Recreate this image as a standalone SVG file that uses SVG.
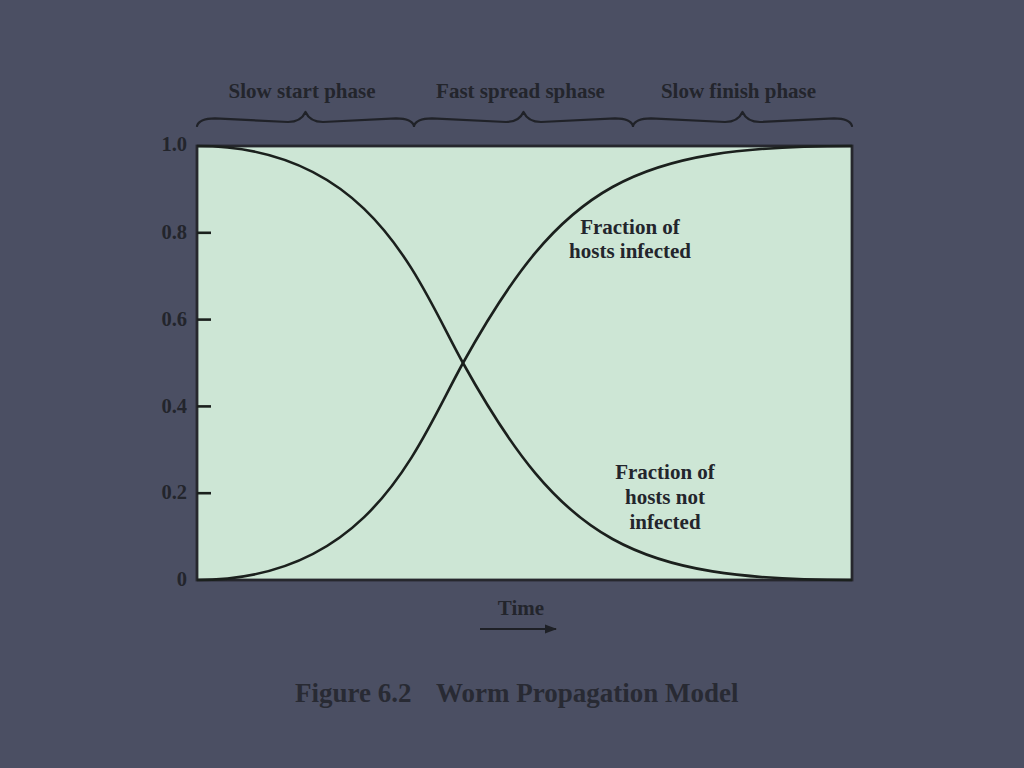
<svg xmlns="http://www.w3.org/2000/svg" width="1024" height="768" viewBox="0 0 1024 768">
  <style>
    .t { font-family: "Liberation Serif", "Times New Roman", serif; font-weight: bold; fill: #23252c; }
    .lbl { font-size: 21px; text-anchor: middle; }
    .tick { font-size: 20.5px; text-anchor: end; }
    .brace { fill: none; stroke: #202228; stroke-width: 2.2; stroke-linecap: round; stroke-linejoin: round; }
    .curve { fill: none; stroke: #1b201d; stroke-width: 2.6; }
    .tk { stroke: #1b201d; stroke-width: 2.6; }
  </style>
  <defs>
    <marker id="arr" markerWidth="12" markerHeight="10" refX="11" refY="5" orient="auto" markerUnits="userSpaceOnUse">
      <path d="M0,0.5 L12,5 L0,9.5 Z" fill="#1e2026"/>
    </marker>
  </defs>
  <rect x="0" y="0" width="1024" height="768" fill="#4b4f63"/>

  <g id="phases">
    <text class="t lbl" x="302" y="98">Slow start phase</text>
    <text class="t lbl" x="520.5" y="98">Fast spread sphase</text>
    <text class="t lbl" x="738.5" y="98">Slow finish phase</text>
    <path class="brace" d="M197,126 Q199,118.5 215,118.3 L288,122 Q301,122 305.5,112 Q310,122 323,122 L396,118.3 Q412,118.5 414,126"/>
    <path class="brace" d="M414,126 Q416,118.5 432,118.3 L506,122 Q519,122 523.5,112 Q528,122 541,122 L615,118.3 Q631,118.5 633,126"/>
    <path class="brace" d="M633,126 Q635,118.5 651,118.3 L725,122 Q738,122 742.5,112 Q747,122 760,122 L834,118.3 Q850,118.5 852,126"/>
  </g>

  <g id="plot">
    <rect x="197" y="146" width="655" height="434" fill="#cde6d5" stroke="#26272d" stroke-width="2.8"/>
    <line class="tk" x1="197" y1="232.8" x2="211" y2="232.8"/>
    <line class="tk" x1="197" y1="319.6" x2="211" y2="319.6"/>
    <line class="tk" x1="197" y1="406.4" x2="211" y2="406.4"/>
    <line class="tk" x1="197" y1="493.2" x2="211" y2="493.2"/>
    <text class="t tick" x="187" y="151">1.0</text>
    <text class="t tick" x="187" y="238.5">0.8</text>
    <text class="t tick" x="187" y="325.5">0.6</text>
    <text class="t tick" x="187" y="412.5">0.4</text>
    <text class="t tick" x="187" y="499">0.2</text>
    <text class="t tick" x="187" y="586">0</text>
  </g>

  <g id="connectors">
    <path id="infected" class="curve" d="M197,580 C372,580 418,444 463,363 C563,183 632,146 852,146"/>
    <path id="not-infected" class="curve" d="M197,146 C372,146 418,282 463,363 C563,543 632,580 852,580"/>
    <line x1="480" y1="629" x2="556" y2="629" stroke="#1e2026" stroke-width="2" marker-end="url(#arr)"/>
  </g>

  <g id="label-infected">
    <text class="t lbl" x="630" y="234">Fraction of</text>
    <text class="t lbl" x="630" y="258">hosts infected</text>
  </g>
  <g id="label-not-infected">
    <text class="t lbl" x="665" y="479">Fraction of</text>
    <text class="t lbl" x="665" y="504">hosts not</text>
    <text class="t lbl" x="665" y="529">infected</text>
  </g>
  <g id="time">
    <text class="t lbl" x="521" y="615">Time</text>
  </g>
  <g id="caption">
    <text class="t" x="295" y="702" style="font-size:27px; fill:#282a33">Figure 6.2<tspan x="436">Worm Propagation Model</tspan></text>
  </g>
</svg>
